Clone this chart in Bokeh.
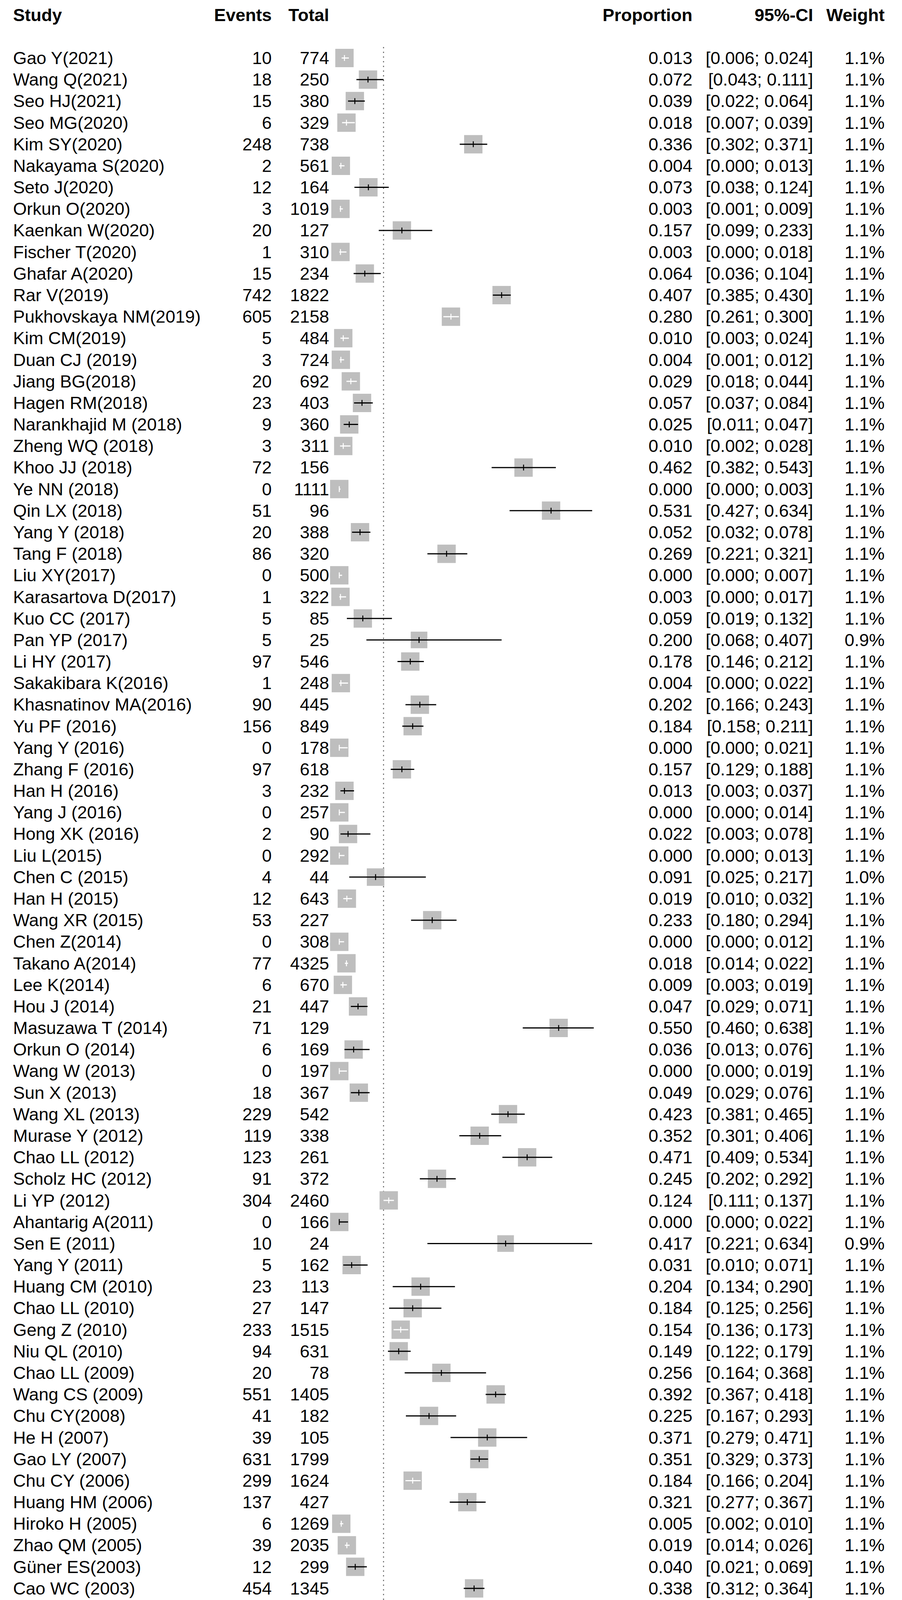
import math
from bokeh.plotting import figure
from bokeh.models import Range1d, LinearAxis, FixedTicker
from bokeh.core.properties import value
from bokeh.embed import file_html
from bokeh.resources import INLINE

# ---------------- data ----------------
studies = [
    "Gao Y(2021)", "Wang Q(2021)", "Seo HJ(2021)", "Seo MG(2020)", "Kim SY(2020)",
    "Nakayama S(2020)", "Seto J(2020)", "Orkun O(2020)", "Kaenkan W(2020)", "Fischer T(2020)",
    "Ghafar A(2020)", "Rar V(2019)", "Pukhovskaya NM(2019)", "Kim CM(2019)", "Duan CJ (2019)",
    "Jiang BG(2018)", "Hagen RM(2018)", "Narankhajid M (2018)", "Zheng WQ (2018)", "Khoo JJ (2018)",
    "Ye NN (2018)", "Qin LX (2018)", "Yang Y (2018)", "Tang F (2018)", "Liu XY(2017)",
    "Karasartova D(2017)", "Kuo CC (2017)", "Pan YP (2017)", "Li HY (2017)", "Sakakibara K(2016)",
    "Khasnatinov MA(2016)", "Yu PF (2016)", "Yang Y (2016)", "Zhang F (2016)", "Han H (2016)",
    "Yang J (2016)", "Hong XK (2016)", "Liu L(2015)", "Chen C (2015)", "Han H (2015)",
    "Wang XR (2015)", "Chen Z(2014)", "Takano A(2014)", "Lee K(2014)", "Hou J (2014)",
    "Masuzawa T (2014)", "Orkun O (2014)", "Wang W (2013)", "Sun X (2013)", "Wang XL (2013)",
    "Murase Y (2012)", "Chao LL (2012)", "Scholz HC (2012)", "Li YP (2012)", "Ahantarig A(2011)",
    "Sen E (2011)", "Yang Y (2011)", "Huang CM (2010)", "Chao LL (2010)", "Geng Z (2010)",
    "Niu QL (2010)", "Chao LL (2009)", "Wang CS (2009)", "Chu CY(2008)", "He H (2007)",
    "Gao LY (2007)", "Chu CY (2006)", "Huang HM (2006)", "Hiroko H (2005)", "Zhao QM (2005)",
    "Güner ES(2003)", "Cao WC (2003)", "Wang ZX (2003)", "Takada N (2001)", "Ishiguro F (2000)",
    "Hua MT (2000)", "Tian W (1998)", "Takada N (1998)", "Wan KL (1998)", "Wang KL (1998)",
    "Miyamoto K (1997)", "Sato Y(1996)", "NAKAO M (1996)", "Takada N (1994)", "Mo YM (1994)",
    "NAKAO M (1992)", "Miyamoto K (1992)", "Du Y (1992)", "Zhag QN (1991)", "Ai CG (1990)",
    "Li SQ (1990)",
]
events = [
    10, 18, 15, 6, 248, 2, 12, 3, 20, 1,
    15, 742, 605, 5, 3, 20, 23, 9, 3, 72,
    0, 51, 20, 86, 0, 1, 5, 5, 97, 1,
    90, 156, 0, 97, 3, 0, 2, 0, 4, 12,
    53, 0, 77, 6, 21, 71, 6, 0, 18, 229,
    119, 123, 91, 304, 0, 10, 5, 23, 27, 233,
    94, 20, 551, 41, 39, 631, 299, 137, 6, 39,
    12, 454, 42, 22, 28, 10, 9, 59, 166, 128,
    7, 225, 114, 81, 5, 225, 117, 215, 42, 42,
    39,
]
totals = [
    774, 250, 380, 329, 738, 561, 164, 1019, 127, 310,
    234, 1822, 2158, 484, 724, 692, 403, 360, 311, 156,
    1111, 96, 388, 320, 500, 322, 85, 25, 546, 248,
    445, 849, 178, 618, 232, 257, 90, 292, 44, 643,
    227, 308, 4325, 670, 447, 129, 169, 197, 367, 542,
    338, 261, 372, 2460, 166, 24, 162, 113, 147, 1515,
    631, 78, 1405, 182, 105, 1799, 1624, 427, 1269, 2035,
    299, 1345, 274, 137, 303, 62, 1118, 128, 623, 820,
    47, 846, 300, 528, 100, 1464, 909, 846, 150, 582,
    343,
]
proportion = [
    0.013, 0.072, 0.039, 0.018, 0.336, 0.004, 0.073, 0.003, 0.157, 0.003,
    0.064, 0.407, 0.280, 0.010, 0.004, 0.029, 0.057, 0.025, 0.010, 0.462,
    0.000, 0.531, 0.052, 0.269, 0.000, 0.003, 0.059, 0.200, 0.178, 0.004,
    0.202, 0.184, 0.000, 0.157, 0.013, 0.000, 0.022, 0.000, 0.091, 0.019,
    0.233, 0.000, 0.018, 0.009, 0.047, 0.550, 0.036, 0.000, 0.049, 0.423,
    0.352, 0.471, 0.245, 0.124, 0.000, 0.417, 0.031, 0.204, 0.184, 0.154,
    0.149, 0.256, 0.392, 0.225, 0.371, 0.351, 0.184, 0.321, 0.005, 0.019,
    0.040, 0.338, 0.153, 0.161, 0.092, 0.161, 0.008, 0.461, 0.266, 0.156,
    0.149, 0.266, 0.380, 0.153, 0.050, 0.154, 0.129, 0.254, 0.280, 0.072,
    0.114,
]
ci_lower = [
    0.006, 0.043, 0.022, 0.007, 0.302, 0.000, 0.038, 0.001, 0.099, 0.000,
    0.036, 0.385, 0.261, 0.003, 0.001, 0.018, 0.037, 0.011, 0.002, 0.382,
    0.000, 0.427, 0.032, 0.221, 0.000, 0.000, 0.019, 0.068, 0.146, 0.000,
    0.166, 0.158, 0.000, 0.129, 0.003, 0.000, 0.003, 0.000, 0.025, 0.010,
    0.180, 0.000, 0.014, 0.003, 0.029, 0.460, 0.013, 0.000, 0.029, 0.381,
    0.301, 0.409, 0.202, 0.111, 0.000, 0.221, 0.010, 0.134, 0.125, 0.136,
    0.122, 0.164, 0.367, 0.167, 0.279, 0.329, 0.166, 0.277, 0.002, 0.014,
    0.021, 0.312, 0.113, 0.103, 0.062, 0.080, 0.004, 0.372, 0.232, 0.132,
    0.062, 0.236, 0.325, 0.124, 0.016, 0.136, 0.108, 0.225, 0.210, 0.053,
    0.082,
]
ci_upper = [
    0.024, 0.111, 0.064, 0.039, 0.371, 0.013, 0.124, 0.009, 0.233, 0.018,
    0.104, 0.430, 0.300, 0.024, 0.012, 0.044, 0.084, 0.047, 0.028, 0.543,
    0.003, 0.634, 0.078, 0.321, 0.007, 0.017, 0.132, 0.407, 0.212, 0.022,
    0.243, 0.211, 0.021, 0.188, 0.037, 0.014, 0.078, 0.013, 0.217, 0.032,
    0.294, 0.012, 0.022, 0.019, 0.071, 0.638, 0.076, 0.019, 0.076, 0.465,
    0.406, 0.534, 0.292, 0.137, 0.022, 0.634, 0.071, 0.290, 0.256, 0.173,
    0.179, 0.368, 0.418, 0.293, 0.471, 0.373, 0.204, 0.367, 0.010, 0.026,
    0.069, 0.364, 0.201, 0.233, 0.131, 0.277, 0.015, 0.551, 0.303, 0.183,
    0.283, 0.297, 0.438, 0.187, 0.113, 0.173, 0.152, 0.285, 0.359, 0.096,
    0.152,
]
weight = [1.1] * 27 + [0.9] + [1.1] * 10 + [1.0] + [1.1] * 16 + [0.9] + [1.1] * 19 + [1.0] + [1.1] * 4 + [1.0] + [1.1] * 10

re_label = "Random effects model"
re_total = "53,003"
re_prop = 0.111
re_lower = 0.083
re_upper = 0.142
re_weight = 100.0
het_text = "Heterogeneity: I\u00b2 = 99%, \u03c4\u00b2 = 0.0503, p = 0"
headers = ["Study", "Events", "Total", "Proportion", "95%-CI", "Weight"]
ticks = [0, 0.1, 0.2, 0.3, 0.4, 0.5, 0.6]
tick_labels = ["0", "0.1", "0.2", "0.3", "0.4", "0.5", "0.6"]

# ---------------- layout constants ----------------
MARGIN = 8
VIEW_TOP = MARGIN      # page pixel at top of the figure
W = 2293
H = 5371 - MARGIN - VIEW_TOP
X0_PX = 876.0          # page pixel of proportion 0
PX_PER_UNIT = 1021.0   # pixels per 1.0 proportion
ROW0_PX = 156.0        # page pixel of first study row
ROW_PX = 55.18         # row spacing
FONT = value("Liberation Sans")
FS = "45px"


def xd(page_px):
    return (page_px - X0_PX) / PX_PER_UNIT


def yd(page_px):
    return (page_px - ROW0_PX) / ROW_PX


x_range = Range1d(xd(MARGIN), xd(MARGIN + W))
y_range = Range1d(start=yd(VIEW_TOP + H), end=yd(VIEW_TOP))

p = figure(width=W, height=H, x_range=x_range, y_range=y_range,
           x_axis_type=None, y_axis_type=None, toolbar_location=None,
           output_backend="svg", min_border=0)
p.outline_line_color = None
p.background_fill_color = "white"
p.border_fill_color = "white"

n = len(studies)
rows = list(range(n))
RE_ROW = n + 1
HEADER_ROW = -2
HET_ROW = n + 2

# reference line at the random effects estimate
p.segment(x0=[re_prop], y0=[yd(128)], x1=[re_prop], y1=[RE_ROW - 0.27],
          line_color="#555555", line_width=2.5, line_dash="3 9")

# study squares (area proportional to weight)
BOX_PX = 47.0
sizes = [BOX_PX * math.sqrt(w / 1.1) for w in weight]
p.scatter(x=proportion, y=rows, size=sizes, marker="square",
          fill_color="#BEBEBE", line_color=None)

# confidence intervals: drawn white when they lie inside the box
INSIDE_HALF = 0.0215
cols = []
for e, lo, up in zip(proportion, ci_lower, ci_upper):
    inside = (e - lo) <= INSIDE_HALF and (up - e) <= INSIDE_HALF
    cols.append("white" if inside else "black")
p.segment(x0=ci_lower, y0=rows, x1=ci_upper, y1=rows, line_color=cols, line_width=3)
tick_h = 7.5 / ROW_PX
p.segment(x0=proportion, y0=[r - tick_h for r in rows], x1=proportion,
          y1=[r + tick_h for r in rows], line_color=cols, line_width=2.5)

# pooled estimate diamond
dh = 14.0 / ROW_PX
p.patch(x=[re_lower, re_prop, re_upper, re_prop],
        y=[RE_ROW, RE_ROW - dh, RE_ROW, RE_ROW + dh],
        fill_color="#BEBEBE", line_color="black", line_width=2.5)

# text columns
X_STUDY = xd(41)
X_EVENTS = xd(703)
X_TOTAL = xd(850)
X_PROP = xd(1780)
X_CI = xd(2089)
X_WEIGHT = xd(2272)


def col_text(x, y, texts, align, style="normal", size=FS):
    p.text(x=[x] * len(texts), y=y, text=texts, text_font=FONT, text_font_size=size,
           text_font_style=style, text_align=align, text_baseline="middle",
           text_color="black")


col_text(X_STUDY, rows, studies, "left")
col_text(X_EVENTS, rows, [str(v) for v in events], "right")
col_text(X_TOTAL, rows, [str(v) for v in totals], "right")
col_text(X_PROP, rows, ["%.3f" % v for v in proportion], "right")
col_text(X_CI, rows, ["[%.3f; %.3f]" % (a, b) for a, b in zip(ci_lower, ci_upper)], "right")
col_text(X_WEIGHT, rows, ["%.1f%%" % w for w in weight], "right")

hx = [X_STUDY, X_EVENTS, X_TOTAL, X_PROP, X_CI, X_WEIGHT]
ha = ["left", "right", "right", "right", "right", "right"]
for x, t, a in zip(hx, headers, ha):
    col_text(x, [HEADER_ROW], [t], a, style="bold")

col_text(X_STUDY, [RE_ROW], [re_label], "left", style="bold")
col_text(X_TOTAL, [RE_ROW], [re_total], "right", style="bold")
col_text(X_PROP, [RE_ROW], ["%.3f" % re_prop], "right", style="bold")
col_text(X_CI, [RE_ROW], ["[%.3f; %.3f]" % (re_lower, re_upper)], "right", style="bold")
col_text(X_WEIGHT, [RE_ROW], ["%.1f%%" % re_weight], "right", style="bold")

col_text(X_STUDY, [HET_ROW], [het_text], "left", size="43px")

# x axis placed inside the frame, under the pooled estimate
axis = LinearAxis(fixed_location=yd(5261), bounds=(0, 0.6),
                  ticker=FixedTicker(ticks=ticks))
axis.major_label_overrides = {t: l for t, l in zip(ticks, tick_labels)}
axis.axis_line_width = 2.5
axis.axis_line_color = "black"
axis.major_tick_line_width = 2.5
axis.major_tick_line_color = "black"
axis.major_tick_out = 28
axis.major_tick_in = 0
axis.minor_tick_line_color = None
axis.major_label_standoff = 10
axis.major_label_text_font = "Liberation Sans"
axis.major_label_text_font_size = FS
axis.major_label_text_color = "black"
p.add_layout(axis, "below")

open("out.html", "w").write(file_html(p, INLINE))
